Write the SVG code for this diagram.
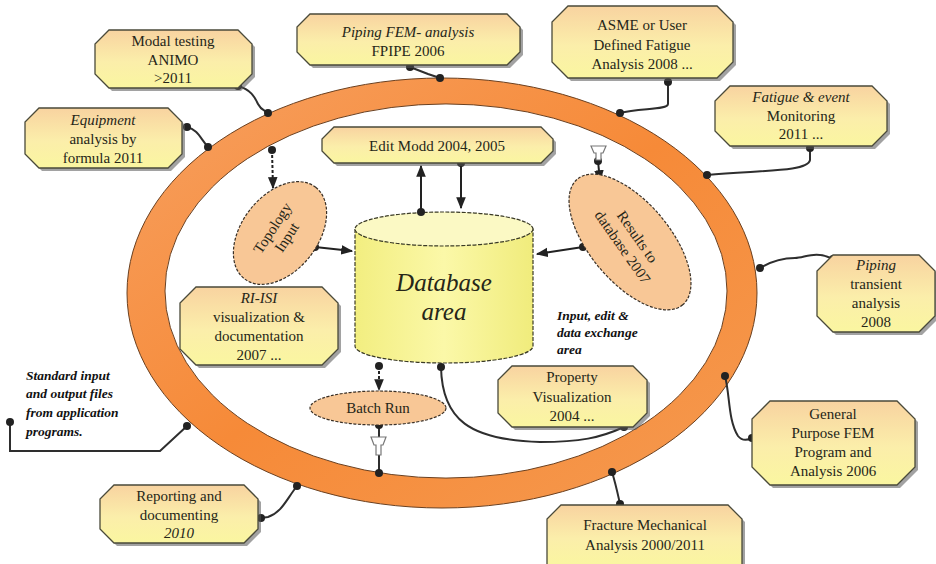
<svg xmlns="http://www.w3.org/2000/svg" width="936" height="564" viewBox="0 0 936 564" font-family="Liberation Serif, DejaVu Serif, serif">
<defs>
<linearGradient id="boxg" x1="0" y1="0" x2="0" y2="1">
<stop offset="0" stop-color="#f8d3a0"/>
<stop offset="0.55" stop-color="#fbeeaa"/>
<stop offset="1" stop-color="#faf6a0"/>
</linearGradient>
<linearGradient id="ringg" x1="0" y1="0" x2="1" y2="1">
<stop offset="0" stop-color="#f7a060"/>
<stop offset="0.5" stop-color="#f68a38"/>
<stop offset="1" stop-color="#f59a50"/>
</linearGradient>
<linearGradient id="cylg" x1="0" y1="0" x2="1" y2="0">
<stop offset="0" stop-color="#f2ee80"/>
<stop offset="0.5" stop-color="#fbf8a8"/>
<stop offset="1" stop-color="#f0ec7c"/>
</linearGradient>
<marker id="arr" viewBox="0 0 10 10" refX="9" refY="5" markerWidth="6" markerHeight="6" orient="auto">
<path d="M0,1 L10,5 L0,9 z" fill="#222"/>
</marker>
<marker id="dot" viewBox="0 0 10 10" refX="5" refY="5" markerWidth="5" markerHeight="5">
<circle cx="5" cy="5" r="4" fill="#222"/>
</marker>
</defs>
<style>
.box{fill:url(#boxg);stroke:#4a4a3a;stroke-width:1.3}
.sh{fill:#555;opacity:0.55}
.t{font-size:15px;fill:#262618;text-anchor:middle}
.i{font-style:italic}
.ell{fill:#f8c796;stroke:#3a3026;stroke-width:1.2;stroke-dasharray:3 1.5}
.c{fill:none;stroke:#2e2e2e;stroke-width:2;marker-start:url(#dot);marker-end:url(#dot)}
.ca{fill:none;stroke:#222;stroke-width:2;marker-start:url(#dot);marker-end:url(#arr)}
.ann{font-size:13.5px;font-weight:bold;font-style:italic;fill:#111}
.fun{fill:#fff;stroke:#777;stroke-width:1.2}
</style>

<g id="ring">
<path fill-rule="evenodd" fill="url(#ringg)" stroke="#6a4020" stroke-width="1" d="M127,293 a315,215 0 1,0 630,0 a315,215 0 1,0 -630,0 z M165,291 a281,187 0 1,1 562,0 a281,187 0 1,1 -562,0 z"/>
</g>

<g id="database">
<path d="M355,229 L355,346 A89,17 0 0,0 533,346 L533,229 z" fill="url(#cylg)" stroke="#3a3a26" stroke-width="1.2" stroke-dasharray="4 1.5"/>
<ellipse cx="444" cy="229" rx="89" ry="17" fill="#fbf9c4" stroke="#3a3a26" stroke-width="1.2" stroke-dasharray="4 1.5"/>
<text class="t i" x="444" y="291" font-family="Liberation Serif" style="font-size:25px">Database</text>
<text class="t i" x="444" y="320" font-family="Liberation Serif" style="font-size:25px">area</text>
</g>

<g id="connectors">
<path class="c" d="M238,86 C252,90 255,98 258,104 C261,110 264,110 268,113"/>
<path class="ca" d="M272,150 L273,188" stroke-dasharray="3 2" marker-start="none"/>
<path class="c" d="M187,127 C198,130 200,138 208,147"/>
<path class="c" d="M410,67 L428,74 L440,78"/>
<path class="c" d="M668,82 L668,104 C668,110 640,108 620,113"/>
<path class="ca" d="M598,161 L600,181" marker-start="none"/>
<path class="c" d="M810,148 L810,160 C808,172 760,170 707,175"/>
<path class="ca" d="M421,212 L421,166" marker-start="none"/>
<path class="ca" d="M461,163 L461,208" marker-start="none"/>
<path class="ca" d="M315,247 L352,251" marker-start="none"/>
<path class="ca" d="M583,247 L537,254" marker-start="none"/>
<path class="c" d="M833,259 C815,250 805,258 795,258 C780,258 770,262 760,268"/>
<path class="ca" d="M379,366 L379,390" stroke-dasharray="3 2" marker-start="none"/>
<path class="c" d="M379,425 L379,473" marker-start="none"/>
<path class="c" d="M441,367 C442,420 470,440 540,442 C580,442 600,438 624,427" marker-start="none" stroke="#444"/>
<path class="c" d="M725,376 C730,395 728,420 738,436 C742,441 748,440 752,438"/>
<path class="c" d="M612,472 C616,485 618,495 620,504"/>
<path class="c" d="M297,486 C286,500 282,512 268,517 L261,518"/>
<path class="c" d="M187,426 L160,451 L10,451 L10,422" marker-end="none"/>
<path class="fun" d="M591,146 L606,146 L603,153 L601,153 L601,160 L596,160 L596,153 L594,153 z"/>
<path class="fun" d="M371,437 L386,437 L383,445 L381,445 L381,455 L376,455 L376,445 L374,445 z"/>
</g>

<g id="topology">
<ellipse class="ell" cx="280" cy="233" rx="58" ry="38" transform="rotate(-52 280 233)"/>
<g transform="rotate(-57 280 233)">
<text class="t" x="280" y="229">Topology</text>
<text class="t" x="280" y="246">Input</text>
</g>
</g>

<g id="results">
<ellipse class="ell" cx="630" cy="242" rx="82" ry="40" transform="rotate(50 630 242)"/>
<g transform="rotate(55 630 242)">
<text class="t" x="630" y="238">Results to</text>
<text class="t" x="630" y="256">database 2007</text>
</g>
</g>

<g id="batch">
<ellipse class="ell" cx="378" cy="408" rx="68" ry="17"/>
<text class="t" x="378" y="413">Batch Run</text>
</g>

<g id="modal">
<polygon class="sh" points="112,33 241,33 255,47 255,77 241,91 112,91 98,77 98,47"/>
<polygon class="box" points="109,30 238,30 252,44 252,74 238,88 109,88 95,74 95,44"/>
<text class="t" x="173" y="46">Modal testing</text>
<text class="t" x="173" y="65">ANIMO</text>
<text class="t" x="173" y="83">&gt;2011</text>
</g>

<g id="equipment">
<polygon class="sh" points="42,111 171,111 185,125 185,157 171,171 42,171 28,157 28,125"/>
<polygon class="box" points="39,108 168,108 182,122 182,154 168,168 39,168 25,154 25,122"/>
<text class="t i" x="103" y="125">Equipment</text>
<text class="t" x="103" y="144">analysis by</text>
<text class="t" x="103" y="163">formula 2011</text>
</g>

<g id="pipingfem">
<polygon class="sh" points="313,17 510,17 523,30 523,55 510,68 313,68 300,55 300,30"/>
<polygon class="box" points="310,14 507,14 520,27 520,52 507,65 310,65 297,52 297,27"/>
<text class="t i" x="408" y="37">Piping FEM- analysis</text>
<text class="t" x="408" y="56">FPIPE 2006</text>
</g>

<g id="asme">
<polygon class="sh" points="571,9 720,9 736,25 736,65 720,81 571,81 555,65 555,25"/>
<polygon class="box" points="568,6 717,6 733,22 733,62 717,78 568,78 552,62 552,22"/>
<text class="t" x="642" y="30">ASME or User</text>
<text class="t" x="642" y="50">Defined Fatigue</text>
<text class="t" x="642" y="69">Analysis 2008 ...</text>
</g>

<g id="fatigue">
<polygon class="sh" points="733,89 875,89 890,104 890,134 875,149 733,149 718,134 718,104"/>
<polygon class="box" points="730,86 872,86 887,101 887,131 872,146 730,146 715,131 715,101"/>
<text class="t i" x="801" y="102">Fatigue &amp; event</text>
<text class="t" x="801" y="121">Monitoring</text>
<text class="t" x="801" y="139">2011 ...</text>
</g>

<g id="editmodd">
<polygon class="sh" points="337,130 544,130 556,142 556,154 544,166 337,166 325,154 325,142"/>
<polygon class="box" points="334,127 541,127 553,139 553,151 541,163 334,163 322,151 322,139"/>
<text class="t" x="437" y="151">Edit Modd 2004, 2005</text>
</g>

<g id="pipingtransient">
<polygon class="sh" points="836,258 922,258 938,274 938,319 922,335 836,335 820,319 820,274"/>
<polygon class="box" points="833,255 919,255 935,271 935,316 919,332 833,332 817,316 817,271"/>
<text class="t i" x="876" y="270">Piping</text>
<text class="t" x="876" y="289">transient</text>
<text class="t" x="876" y="308">analysis</text>
<text class="t" x="876" y="327">2008</text>
</g>

<g id="riisi">
<polygon class="sh" points="199,290 325,290 341,306 341,352 325,368 199,368 183,352 183,306"/>
<polygon class="box" points="196,287 322,287 338,303 338,349 322,365 196,365 180,349 180,303"/>
<text class="t i" x="259" y="303">RI-ISI</text>
<text class="t" x="259" y="322">visualization &amp;</text>
<text class="t" x="259" y="341">documentation</text>
<text class="t" x="259" y="360">2007 ...</text>
</g>

<g id="property">
<polygon class="sh" points="515,369 636,369 650,383 650,416 636,430 515,430 501,416 501,383"/>
<polygon class="box" points="512,366 633,366 647,380 647,413 633,427 512,427 498,413 498,380"/>
<text class="t" x="572" y="382">Property</text>
<text class="t" x="572" y="402">Visualization</text>
<text class="t" x="572" y="421">2004 ...</text>
</g>

<g id="general">
<polygon class="sh" points="773,404 900,404 918,422 918,470 900,488 773,488 755,470 755,422"/>
<polygon class="box" points="770,401 897,401 915,419 915,467 897,485 770,485 752,467 752,419"/>
<text class="t" x="833" y="419">General</text>
<text class="t" x="833" y="438">Purpose FEM</text>
<text class="t" x="833" y="457">Program and</text>
<text class="t" x="833" y="476">Analysis 2006</text>
</g>

<g id="fracture">
<polygon class="sh" points="564,508 731,508 745,522 745,568 550,568 550,522"/>
<polygon class="box" points="561,505 728,505 742,519 742,566 547,566 547,519"/>
<text class="t" x="645" y="530">Fracture Mechanical</text>
<text class="t" x="645" y="550">Analysis 2000/2011</text>
</g>

<g id="reporting">
<polygon class="sh" points="117,488 247,488 261,502 261,532 247,546 117,546 103,532 103,502"/>
<polygon class="box" points="114,485 244,485 258,499 258,529 244,543 114,543 100,529 100,499"/>
<text class="t" x="179" y="501">Reporting and</text>
<text class="t" x="179" y="520">documenting</text>
<text class="t i" x="179" y="538">2010</text>
</g>

<g id="labels">
<text class="ann" x="557" y="320">Input, edit &amp;</text>
<text class="ann" x="557" y="337">data exchange</text>
<text class="ann" x="557" y="354">area</text>
<text class="ann" x="26" y="380">Standard input</text>
<text class="ann" x="26" y="398">and output files</text>
<text class="ann" x="26" y="417">from application</text>
<text class="ann" x="26" y="436">programs.</text>
</g>
</svg>
